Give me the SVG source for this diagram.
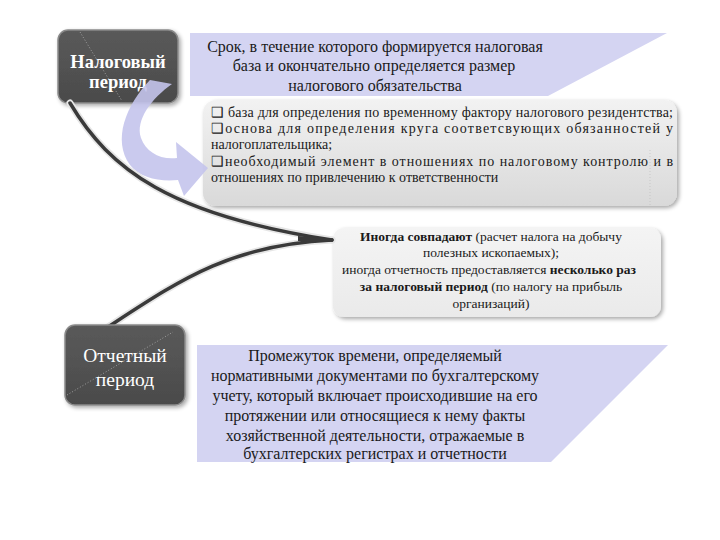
<svg xmlns="http://www.w3.org/2000/svg" width="720" height="540" viewBox="0 0 720 540">
<defs>
<linearGradient id="dark" x1="0" y1="0" x2="0" y2="1">
<stop offset="0" stop-color="#5a5a5a"/>
<stop offset="1" stop-color="#4a4a4a"/>
</linearGradient>
<linearGradient id="grey" x1="0" y1="0" x2="0" y2="1">
<stop offset="0" stop-color="#f2f2f2"/>
<stop offset="1" stop-color="#d9d9d9"/>
</linearGradient>
<linearGradient id="light" x1="0" y1="0" x2="0" y2="1">
<stop offset="0" stop-color="#f4f4f4"/>
<stop offset="1" stop-color="#eaeaea"/>
</linearGradient>
<filter id="sh" x="-10%" y="-10%" width="130%" height="130%">
<feGaussianBlur in="SourceAlpha" stdDeviation="2"/>
<feOffset dx="1.5" dy="2" result="b"/>
<feComponentTransfer><feFuncA type="linear" slope="0.35"/></feComponentTransfer>
<feMerge><feMergeNode/><feMergeNode in="SourceGraphic"/></feMerge>
</filter>
</defs>
<style>
.node{fill:url(#dark);stroke:#8a8a8a;stroke-width:1.5}
.nt{font-family:"Liberation Serif","DejaVu Serif",serif;fill:#ffffff;text-anchor:middle}
.band{fill:#d4d4f2}
.t{font-family:"Liberation Serif","DejaVu Serif",serif;fill:#1a1a1a}
.c{text-anchor:middle}
.dot{stroke:#bdbdbd;stroke-width:1;stroke-dasharray:1 2;fill:none;opacity:0.7}
.con{fill:none;stroke:#3a3a3a;stroke-width:3.5;stroke-linecap:round}
.halo{fill:none;stroke:#e6e6e6;stroke-width:7;stroke-linecap:round}
</style>
<rect width="720" height="540" fill="#ffffff"/>

<g id="banner-top">
<polygon class="band" points="190,33 667,33 548,96 190,96"/>
<text class="t c" font-size="16" x="375" y="52">Срок, в течение которого формируется налоговая</text>
<text class="t c" font-size="16" x="374" y="71">база и окончательно определяется размер</text>
<text class="t c" font-size="16" x="375" y="91">налогового обязательства</text>
</g>

<g id="node-nalog">
<rect class="node" x="58" y="30" width="120" height="73" rx="10" filter="url(#sh)"/>
<line class="dot" x1="80" y1="32" x2="122" y2="101"/>
<text class="nt" font-size="18.5" font-weight="bold" x="118" y="68">Налоговый</text>
<text class="nt" font-size="18.5" font-weight="bold" x="118" y="88">период</text>
</g>

<g id="box-grey">
<rect x="203" y="100" width="474" height="106" rx="13" fill="url(#grey)" filter="url(#sh)"/>
<line class="dot" x1="650" y1="150" x2="650" y2="205"/>
<text class="t" font-size="14" x="211" y="117" textLength="462" lengthAdjust="spacing">❑ база для определения по временному фактору налогового резидентства;</text>
<text class="t" font-size="14" x="211" y="133" textLength="462" lengthAdjust="spacing">❑основа для определения круга соответсвующих обязанностей у</text>
<text class="t" font-size="14" x="211" y="149">налогоплательщика;</text>
<text class="t" font-size="14" x="211" y="166" textLength="462" lengthAdjust="spacing">❑необходимый элемент в отношениях по налоговому контролю и в</text>
<text class="t" font-size="14" x="211" y="182">отношениях по привлечению к ответственности</text>
</g>

<g id="arrow-curved">
<path fill="#c4c4ec" opacity="0.9" d="M150,80 C126,105 112,140 130,165 C140,178 160,182 178,180 L184,196 L208,168 L176,142 L177,158 C160,160 146,152 141,138 C135,120 152,98 172,84 Z"/>
</g>

<g id="box-middle">
<rect x="333" y="228" width="328" height="89" rx="11" fill="url(#light)" filter="url(#sh)"/>
<text class="t c" font-size="13.5" x="491" y="241"><tspan font-weight="bold">Иногда совпадают</tspan> (расчет налога на добычу</text>
<text class="t c" font-size="13.5" x="491" y="257">полезных ископаемых);</text>
<text class="t c" font-size="13.5" x="489" y="274">иногда отчетность предоставляется <tspan font-weight="bold">несколько раз</tspan></text>
<text class="t c" font-size="13.5" x="491" y="291"><tspan font-weight="bold">за налоговый период</tspan>  (по налогу на прибыль</text>
<text class="t c" font-size="13.5" x="491" y="308">организаций)</text>
</g>

<g id="connectors">
<path class="halo" d="M70,103 C110,170 170,215 332,240"/>
<path class="halo" d="M108,327 C180,280 230,245 332,240"/>
<path class="con" d="M70,103 C110,170 170,215 332,240"/>
<path class="con" d="M108,327 C180,280 230,245 332,240"/>
<polygon fill="#3a3a3a" points="298,236 333,238.5 333,241.5 298,241"/>
</g>

<g id="banner-bottom">
<polygon class="band" points="197,345 668,345 551,462 197,462"/>
<text class="t c" font-size="16" x="375" y="361">Промежуток времени, определяемый</text>
<text class="t c" font-size="16" x="375" y="381">нормативными документами по бухгалтерскому</text>
<text class="t c" font-size="16" x="375" y="401">учету, который включает происходившие на его</text>
<text class="t c" font-size="16" x="375" y="421">протяжении или относящиеся к нему факты</text>
<text class="t c" font-size="16" x="375" y="441">хозяйственной деятельности, отражаемые в</text>
<text class="t c" font-size="16" x="375" y="459">бухгалтерских регистрах и отчетности</text>
</g>

<g id="node-otchet">
<rect class="node" x="65" y="325" width="120" height="80" rx="10" filter="url(#sh)"/>
<line class="dot" x1="67" y1="395" x2="173" y2="332"/>
<text class="nt" font-size="19.5" x="125" y="362">Отчетный</text>
<text class="nt" font-size="19.5" x="125" y="386">период</text>
</g>
</svg>
